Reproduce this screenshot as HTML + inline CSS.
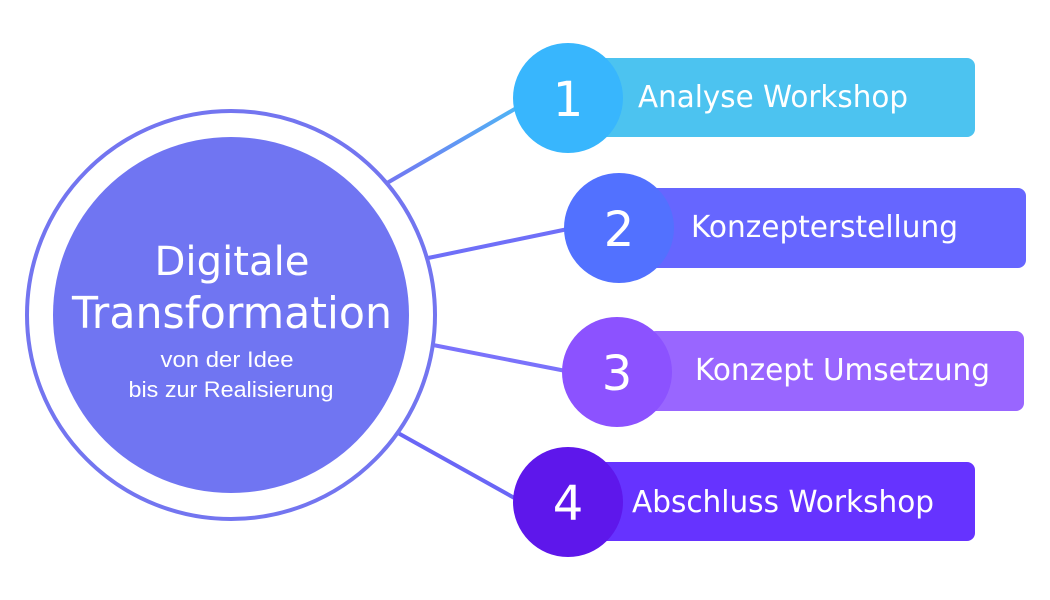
<!DOCTYPE html>
<html><head><meta charset="utf-8"><style>html,body{margin:0;padding:0;background:#fff}svg{display:block}</style></head>
<body>
<svg width="1050" height="600" viewBox="0 0 1050 600" xmlns="http://www.w3.org/2000/svg" font-family="'DejaVu Sans','Liberation Sans',sans-serif">
<defs>
<linearGradient id="l1" x1="0" y1="1" x2="1" y2="0"><stop offset="0" stop-color="#7376f2"/><stop offset="1" stop-color="#4fb6f5"/></linearGradient>
</defs>
<line x1="387" y1="183" x2="520" y2="106" stroke="url(#l1)" stroke-width="4"/>
<line x1="428" y1="258" x2="568" y2="229" stroke="#6f6ff8" stroke-width="4"/>
<line x1="433" y1="345" x2="566" y2="371" stroke="#7a72fb" stroke-width="4"/>
<line x1="398" y1="433" x2="518" y2="500" stroke="#6a66f6" stroke-width="4"/>
<circle cx="231" cy="315" r="204" fill="none" stroke="#7375f0" stroke-width="4"/>
<circle cx="231" cy="315" r="178" fill="#7075f2"/>
<g fill="#fff" text-anchor="middle">
<text x="232" y="275" font-size="40" textLength="155" lengthAdjust="spacingAndGlyphs">Digitale</text>
<text x="232" y="328" font-size="44" textLength="320" lengthAdjust="spacingAndGlyphs">Transformation</text>
<text x="227" y="367" font-size="22" font-family="'Liberation Sans',sans-serif" textLength="133" lengthAdjust="spacingAndGlyphs">von der Idee</text>
<text x="231" y="397" font-size="22" font-family="'Liberation Sans',sans-serif" textLength="205" lengthAdjust="spacingAndGlyphs">bis zur Realisierung</text>
</g>
<rect x="598" y="58" width="377" height="79" rx="8" fill="#4cc3f0"/>
<rect x="648" y="188" width="378" height="80" rx="8" fill="#6666ff"/>
<rect x="648" y="331" width="376" height="80" rx="8" fill="#9966ff"/>
<rect x="598" y="462" width="377" height="79" rx="8" fill="#6633ff"/>
<circle cx="568" cy="98" r="55" fill="#38b6fd"/>
<circle cx="619" cy="228" r="55" fill="#5271ff"/>
<circle cx="617" cy="372" r="55" fill="#8c52ff"/>
<circle cx="568" cy="502" r="55" fill="#5e17eb"/>
<g fill="#fff" font-size="48" text-anchor="middle">
<text x="568" y="116">1</text>
<text x="619" y="246">2</text>
<text x="617" y="390">3</text>
<text x="568" y="520">4</text>
</g>
<g fill="#fff" font-size="30">
<text x="638" y="107" textLength="270" lengthAdjust="spacingAndGlyphs">Analyse Workshop</text>
<text x="691" y="237" textLength="267" lengthAdjust="spacingAndGlyphs">Konzepterstellung</text>
<text x="695" y="380" textLength="295" lengthAdjust="spacingAndGlyphs">Konzept Umsetzung</text>
<text x="632" y="512" textLength="302" lengthAdjust="spacingAndGlyphs">Abschluss Workshop</text>
</g>
</svg>
</body></html>
